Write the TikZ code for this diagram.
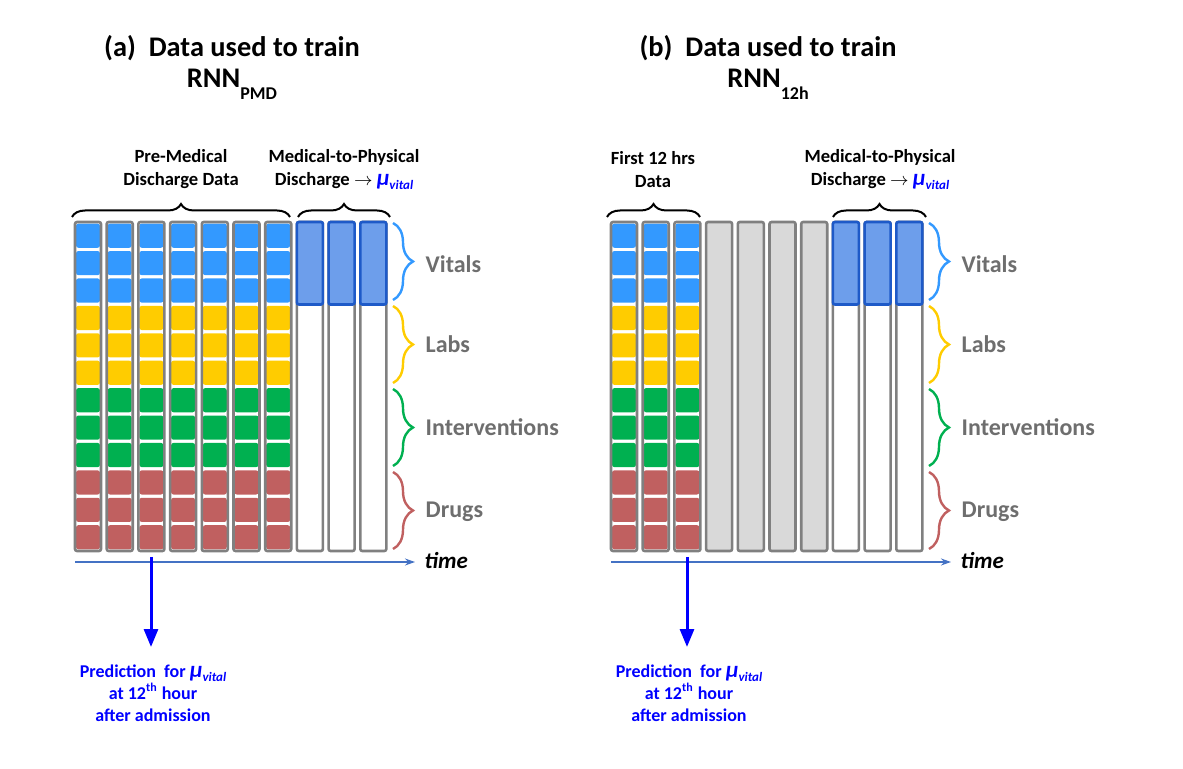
\documentclass[tikz,border=0pt]{standalone}
\usepackage{fontspec}
\setmainfont{Carlito}
\usetikzlibrary{arrows.meta,decorations.pathreplacing}

\definecolor{vitblue}{RGB}{51,153,255}
\definecolor{labgold}{RGB}{255,204,0}
\definecolor{intgreen}{RGB}{0,176,80}
\definecolor{drugred}{RGB}{192,96,96}
\definecolor{mpdfill}{RGB}{109,158,235}
\definecolor{mpdline}{RGB}{30,90,200}
\definecolor{colgray}{RGB}{128,128,128}
\definecolor{colfill}{RGB}{217,217,217}
\definecolor{txtgray}{RGB}{110,110,110}
\definecolor{timeblue}{RGB}{68,114,196}
\definecolor{predblue}{RGB}{0,0,255}

\newcommand\muvital{\textcolor{predblue}{\itshape{\fontsize{11.5}{11}\selectfont μ}\raisebox{-0.5ex}{\fontsize{6.5}{7}\selectfont vital}}}

\begin{document}
\begin{tikzpicture}[x=0.5pt,y=-0.5pt,line width=1pt,>={Stealth[length=5pt,width=3.5pt]},
  cell/.style={rounded corners=1.2pt},
  colbox/.style={draw=colgray,line width=1.3pt,rounded corners=1pt},
  mpdbox/.style={draw=mpdline,fill=mpdfill,line width=1.3pt,rounded corners=1pt},
  topbrace/.style={decorate,decoration={brace,amplitude=6.5pt},line width=1pt},
  sidebrace/.style={decorate,decoration={brace,amplitude=10pt},line width=1.2pt},
  ttl/.style={font=\bfseries\fontsize{14.2}{17}\selectfont},
  hdr/.style={font=\bfseries\fontsize{9.3}{11.5}\selectfont,align=center},
  grp/.style={font=\bfseries\fontsize{12}{15}\selectfont,text=txtgray,anchor=west},
  pred/.style={font=\bfseries\fontsize{9}{11}\selectfont,text=predblue,align=center},
  timelbl/.style={font=\bfseries\itshape\fontsize{11.5}{14}\selectfont,anchor=west},
  predarrow/.style={-{Triangle[length=9pt,width=7pt]},predblue,line width=1.5pt}]
\useasboundingbox (0,0) rectangle (1183,769);

% ---------- (a) RNN_PMD ----------
\node[ttl] (titleA) at (232,48) {(a)\ \ Data used to train};
\node[ttl] (rnnA) at (232,84) {RNN\raisebox{-6pt}{\fontsize{9}{9}\selectfont PMD}};
% data columns
\foreach \c in {0,...,6}{
  \pgfmathsetmacro\xl{75+31.7*\c}
  \foreach \g/\col in {0/vitblue,1/labgold,2/intgreen,3/drugred}
    \foreach \k in {0,1,2}{
      \pgfmathsetmacro\yt{222+27.417*(3*\g+\k)}
      \fill[cell,\col] (\xl+1,\yt+1.6) rectangle (\xl+25,\yt+25.8);
    }
  \draw[colbox] (\xl,222) rectangle (\xl+26,551);
}
% medical-to-physical columns
\foreach \c in {7,8,9}{
  \pgfmathsetmacro\xl{75+31.7*\c}
  \draw[colbox,fill=white] (\xl,222) rectangle (\xl+26,551);
  \draw[mpdbox] (\xl,222) rectangle (\xl+26,304.5);
}
% braces on top
\draw[topbrace] (72,217) -- (290,217);
\draw[topbrace] (298,217) -- (390,217);
\node[hdr] (preA) at (181,169.5) {Pre-Medical\\Discharge Data};
\node[hdr] (mpdA) at (344,169.5) {Medical-to-Physical\\Discharge $\rightarrow$ \muvital};
% groups
\draw[sidebrace,vitblue] (393,223) -- (393,300);
\draw[sidebrace,labgold] (393,306) -- (393,383);
\draw[sidebrace,intgreen] (393,389) -- (393,466);
\draw[sidebrace,drugred] (393,472) -- (393,549);
\node[grp] (vitA) at (418,264) {Vitals};
\node[grp] (labA) at (418,344) {Labs};
\node[grp] (intA) at (418,427) {Interventions};
\node[grp] (drugA) at (418,512) {Drugs};
% time axis
\coordinate (t0A) at (75,562);
\coordinate (t1A) at (415,562);
\draw[->,timeblue,line width=0.6pt] (t0A) -- (t1A);
\node[timelbl] (timeA) at (417,561) {time};
% prediction
\coordinate (p0A) at (151,557);
\coordinate (p1A) at (151,647);
\draw[predarrow] (p0A) -- (p1A);
\node[pred] (predA) at (153,693) {Prediction\ \ for \muvital\\at 12\textsuperscript{th} hour\\after admission};

% ---------- (b) RNN_12h ----------
\node[ttl] (titleB) at (768,48) {(b)\ \ Data used to train};
\node[ttl] (rnnB) at (768,84) {RNN\raisebox{-6pt}{\fontsize{9}{9}\selectfont 12h}};
% first 12 hrs columns
\foreach \c in {0,1,2}{
  \pgfmathsetmacro\xl{611+31.7*\c}
  \foreach \g/\col in {0/vitblue,1/labgold,2/intgreen,3/drugred}
    \foreach \k in {0,1,2}{
      \pgfmathsetmacro\yt{222+27.417*(3*\g+\k)}
      \fill[cell,\col] (\xl+1,\yt+1.6) rectangle (\xl+25,\yt+25.8);
    }
  \draw[colbox] (\xl,222) rectangle (\xl+26,551);
}
% unused columns
\foreach \c in {3,...,6}{
  \pgfmathsetmacro\xl{611+31.7*\c}
  \draw[colbox,fill=colfill] (\xl,222) rectangle (\xl+26,551);
}
% medical-to-physical columns
\foreach \c in {7,8,9}{
  \pgfmathsetmacro\xl{611+31.7*\c}
  \draw[colbox,fill=white] (\xl,222) rectangle (\xl+26,551);
  \draw[mpdbox] (\xl,222) rectangle (\xl+26,304.5);
}
% braces on top
\draw[topbrace] (607,217) -- (700,217);
\draw[topbrace] (833,217) -- (926,217);
\node[hdr] (firstB) at (653,169.5) {First 12 hrs\\Data};
\node[hdr] (mpdB) at (880,169.5) {Medical-to-Physical\\Discharge $\rightarrow$ \muvital};
% groups
\draw[sidebrace,vitblue] (929,223) -- (929,300);
\draw[sidebrace,labgold] (929,306) -- (929,383);
\draw[sidebrace,intgreen] (929,389) -- (929,466);
\draw[sidebrace,drugred] (929,472) -- (929,549);
\node[grp] (vitB) at (954,264) {Vitals};
\node[grp] (labB) at (954,344) {Labs};
\node[grp] (intB) at (954,427) {Interventions};
\node[grp] (drugB) at (954,512) {Drugs};
% time axis
\coordinate (t0B) at (611,562);
\coordinate (t1B) at (951,562);
\draw[->,timeblue,line width=0.6pt] (t0B) -- (t1B);
\node[timelbl] (timeB) at (953,561) {time};
% prediction
\coordinate (p0B) at (687,557);
\coordinate (p1B) at (687,647);
\draw[predarrow] (p0B) -- (p1B);
\node[pred] (predB) at (689,693) {Prediction\ \ for \muvital\\at 12\textsuperscript{th} hour\\after admission};
\end{tikzpicture}
\end{document}
